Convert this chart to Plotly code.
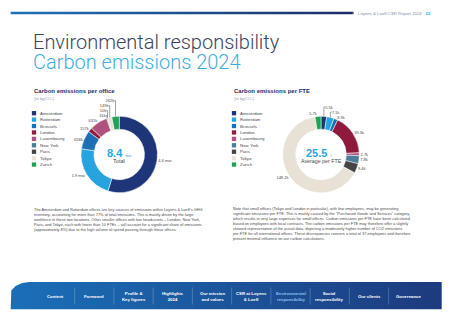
import numpy as np
import plotly.graph_objects as go

# ---------------- data ----------------
offices = ["Amsterdam", "Rotterdam", "Brussels", "London", "Luxembourg",
           "New York", "Paris", "Tokyo", "Zurich"]
office_colors = ["#1f3579", "#27a4e0", "#1c6fb4", "#8e1a3c", "#b0527e",
                 "#4d7d9a", "#454545", "#e8e1d5", "#1ea253"]
emissions_kg = [4.6e6, 1.9e6, 658e3, 157e3, 631e3, 31e3, 10e3, 149e3, 262e3]
emissions_lbl = ["4.6 mio", "1.9 mio", "658k", "157k", "631k", "31k", "10k", "149k", "262k"]
per_fte_kg = [5.5e3, 7.1e3, 3.9e3, 39.3e3, 2.7e3, 7.8e3, 9.4e3, 148.2e3, 5.7e3]
per_fte_lbl = ["5.5k", "7.1k", "3.9k", "39.3k", "2.7k", "7.8k", "9.4k", "148.2k", "5.7k"]
total_lbl = "8.4"
avg_fte_lbl = "25.5"
nav_items = ["Content", "Foreword", "Profile &<br>Key figures", "Highlights<br>2024",
             "Our mission<br>and values", "CSR at Loyens<br>& Loeff",
             "Environmental<br>responsibility", "Social<br>responsibility",
             "Our clients", "Governance"]
active_nav = "Environmental<br>responsibility"

left_text = [
    "The Amsterdam and Rotterdam offices are key sources of emissions within Loyens &amp; Loeff’s GHG",
    "inventory, accounting for more than 77% of total emissions. This is mainly driven by the large",
    "workforce in these two locations. Other smaller offices with low headcounts – London, New York,",
    "Paris, and Tokyo, each with fewer than 10 FTEs – still account for a significant share of emissions",
    "(approximately 8%) due to the high volume of spend passing through those offices.",
]
right_text = [
    "Note that small offices (Tokyo and London in particular), with few employees, may be generating",
    "significant emissions per FTE. This is mainly caused by the “Purchased Goods and Services” category,",
    "which results in very large expenses for small offices. Carbon emissions per FTE have been calculated",
    "based on employees with local contracts. The carbon emissions per FTE may therefore offer a slightly",
    "skewed representation of the actual data, depicting a moderately higher number of CO2 emissions",
    "per FTE for all international offices. These discrepancies concern a total of 37 employees and therefore",
    "present minimal influence on our carbon calculations.",
]

# ---------------- layout helpers ----------------
W, H = 452, 320
FONT = "Liberation Sans"
TITLE_FONT = "Roboto"


def dom(x0, x1, y0, y1):
    return dict(x=[x0 / W, x1 / W], y=[1 - y1 / H, 1 - y0 / H])


fig = go.Figure()

# top gradient bar
fig.add_trace(go.Scatter(
    x=[10.7, 352, 352, 10.7, 10.7], y=[11.8, 11.8, 14.2, 14.2, 11.8],
    mode="lines", line=dict(width=0), fill="toself",
    fillgradient=dict(type="horizontal", colorscale=[[0, "#1f72b8"], [1, "#1b2c66"]]),
    hoverinfo="skip", showlegend=False))

# bottom navigation bar with rounded top-left corner
rx, ry = 20, 12
x0n, x1n, y0n, y1n = 10.7, 441.7, 282, 309.3
t = np.linspace(np.pi, 1.5 * np.pi, 20)
arc_x = (x0n + rx) + rx * np.cos(t)
arc_y = (y0n + ry) + ry * np.sin(t)
nav_x = [x0n] + list(arc_x) + [x1n, x1n, x0n]
nav_y = [y1n] + list(arc_y) + [y0n, y1n, y1n]
fig.add_trace(go.Scatter(
    x=nav_x, y=nav_y, mode="lines", line=dict(width=0), fill="toself",
    fillgradient=dict(type="horizontal", colorscale=[[0, "#1a6fb8"], [1, "#1d3a7e"]]),
    hoverinfo="skip", showlegend=False))

# legends (squares)
leg_y = [113.2 + 6.42 * i for i in range(len(offices))]
for lx in (34.0, 234.0):
    fig.add_trace(go.Scatter(
        x=[lx] * len(offices), y=leg_y, mode="markers",
        marker=dict(symbol="square", size=4.3, color=office_colors, line=dict(width=0)),
        hoverinfo="skip", showlegend=False))

# donuts
common = dict(sort=False, direction="clockwise", rotation=0, hole=0.66,
              textinfo="text", textposition="outside",
              textfont=dict(family=FONT, size=4, color="#4a4a4a"),
              marker=dict(colors=office_colors, line=dict(color="white", width=0.5)),
              showlegend=False, hoverinfo="label+value")
fig.add_trace(go.Pie(labels=offices, values=emissions_kg, text=emissions_lbl,
                     domain=dom(81, 157.5, 116, 193), **common))
fig.add_trace(go.Pie(labels=offices, values=per_fte_kg, text=per_fte_lbl,
                     domain=dom(282.7, 359.3, 116, 193), **common))

ann = []


def A(x, y, text, size, color, family=FONT, xanchor="left", yanchor="middle", align="left", weight=None):
    f = dict(family=family, size=size, color=color)
    if weight is not None:
        f["weight"] = weight
    ann.append(dict(x=x, y=y, xref="x", yref="y", text=text, showarrow=False,
                    xanchor=xanchor, yanchor=yanchor, align=align, font=f))


# header
A(356, 13, "Loyens &amp; Loeff CSR Report 2024 · <b><span style='color:#2ea6df'>22</span></b>",
  4.3, "#7d8fae")
fig.add_shape(type="rect", x0=352, x1=353.6, y0=11.8, y1=14.2, xref="x", yref="y",
              fillcolor="#3b4a6b", line=dict(width=0))

# titles
A(30.5, 41.5, "Environmental responsibility", 20, "#3a4560", family=TITLE_FONT, weight=300)
A(30.5, 61.8, "Carbon emissions 2024", 20, "#3daee0", family=TITLE_FONT, weight=300)

# section headings
for sx, name in ((31.5, "Carbon emissions per office"), (231.5, "Carbon emissions per FTE")):
    A(sx, 91.3, "<b>" + name + "</b>", 6, "#22306b")
    A(sx, 98.4, "(in kgCO₂)", 4.3, "#8a9bb8")

# legend labels
for lx in (38.3, 238.3):
    for yy, name in zip(leg_y, offices):
        A(lx, yy, name, 4.4, "#4a4a4a")

# donut centers
A(118.5, 153, "<b>" + total_lbl + "</b> <span style='font-size:3.6px'>mio</span>", 11,
  "#2ba6df", xanchor="center")
A(119.2, 161.3, "Total", 5.6, "#4a4a4a", xanchor="center")
A(318, 153, "<b>" + avg_fte_lbl + "</b> <span style='font-size:3.6px'>t</span>", 11,
  "#2ba6df", xanchor="center")
A(321, 161.3, "Average per FTE", 5.3, "#4a4a4a", xanchor="center")

# paragraphs
A(31.8, 204.5, "<br>".join(left_text), 3.9, "#4a4a4a", yanchor="top")
A(231.3, 203.6, "<br>".join(right_text), 3.9, "#4a4a4a", yanchor="top")

# navigation labels & separators
nav_x0, nav_step = 55.0, 39.25
for i, item in enumerate(nav_items):
    cx = nav_x0 + nav_step * i
    col = "#8cc2ee" if item == active_nav else "#ffffff"
    A(cx, 296.5, "<b>" + item + "</b>", 4.3, col, xanchor="center", align="center")
    if i > 0:
        sx = cx - nav_step / 2
        fig.add_shape(type="line", x0=sx, x1=sx, y0=287.5, y1=304.5, xref="x", yref="y",
                      line=dict(color="rgba(255,255,255,0.35)", width=0.6))

fig.update_layout(
    width=W, height=H, margin=dict(l=0, r=0, t=0, b=0),
    paper_bgcolor="white", plot_bgcolor="white",
    xaxis=dict(range=[0, W], visible=False, fixedrange=True, domain=[0, 1]),
    yaxis=dict(range=[H, 0], visible=False, fixedrange=True, domain=[0, 1]),
    annotations=ann, showlegend=False,
)

fig.write_html("out.html")
